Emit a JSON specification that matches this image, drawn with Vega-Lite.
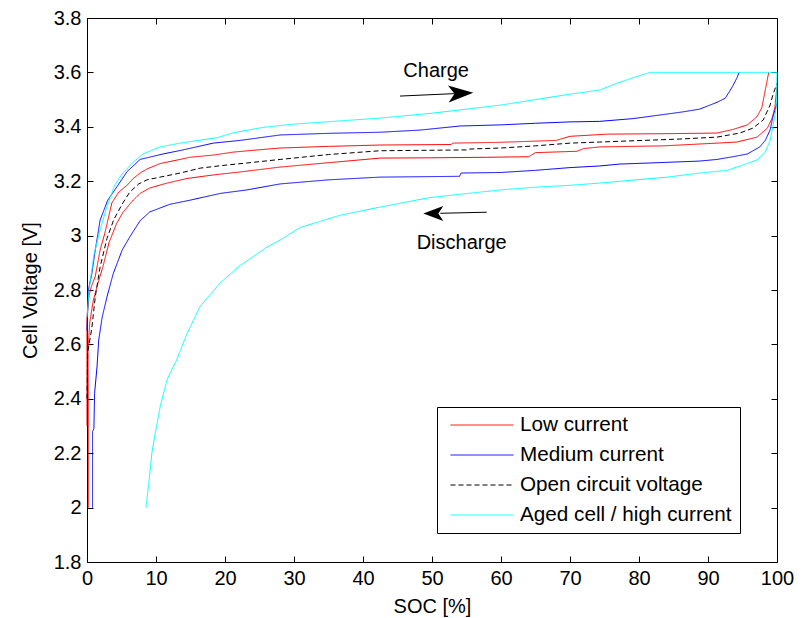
{
  "$schema": "https://vega.github.io/schema/vega-lite/v6.json",
  "width": 690,
  "height": 544,
  "autosize": {"type": "none"},
  "padding": {"left": 87, "top": 18, "right": 25, "bottom": 56},
  "background": "white",
  "config": {
    "view": {"stroke": null},
    "font": "Liberation Sans",
    "axis": {
      "domainColor": "black",
      "domainWidth": 1,
      "tickColor": "black",
      "tickWidth": 1,
      "tickSize": -6,
      "labelColor": "black",
      "labelFont": "Liberation Sans",
      "labelFontSize": 20,
      "labelPadding": 12,
      "labelFlush": false,
      "labelOverlap": false,
      "titleColor": "black",
      "titleFont": "Liberation Sans",
      "titleFontSize": 20,
      "titleFontWeight": "normal",
      "grid": false
    },
    "axisBottom": {"titlePadding": 8},
    "axisLeft": {"titlePadding": 13},
    "legend": {
      "orient": "none",
      "legendX": 350,
      "legendY": 389,
      "title": null,
      "padding": 8,
      "strokeColor": "black",
      "strokeWidth": 1,
      "fillColor": "white",
      "symbolType": "stroke",
      "symbolSize": 3969,
      "symbolStrokeWidth": 1,
      "symbolOffset": 5,
      "labelOffset": 6,
      "labelFont": "Liberation Sans",
      "labelFontSize": 20.7,
      "labelColor": "black",
      "labelLimit": 400,
      "clipHeight": 20,
      "rowPadding": 9
    }
  },
  "datasets": {
    "curves": [
      {"c": "Low current", "s": "low-charge", "i": 1, "soc": 0, "v": 2.3},
      {"c": "Low current", "s": "low-charge", "i": 2, "soc": 0, "v": 2.7},
      {"c": "Low current", "s": "low-charge", "i": 3, "soc": 0.3, "v": 2.78},
      {"c": "Low current", "s": "low-charge", "i": 4, "soc": 0.6, "v": 2.81},
      {"c": "Low current", "s": "low-charge", "i": 5, "soc": 1.2, "v": 2.85},
      {"c": "Low current", "s": "low-charge", "i": 6, "soc": 1.9, "v": 2.947},
      {"c": "Low current", "s": "low-charge", "i": 7, "soc": 2.6, "v": 3.01},
      {"c": "Low current", "s": "low-charge", "i": 8, "soc": 3.6, "v": 3.12},
      {"c": "Low current", "s": "low-charge", "i": 9, "soc": 4.6, "v": 3.16},
      {"c": "Low current", "s": "low-charge", "i": 10, "soc": 5.8, "v": 3.185},
      {"c": "Low current", "s": "low-charge", "i": 11, "soc": 6.7, "v": 3.21},
      {"c": "Low current", "s": "low-charge", "i": 12, "soc": 7.7, "v": 3.23},
      {"c": "Low current", "s": "low-charge", "i": 13, "soc": 8.7, "v": 3.245},
      {"c": "Low current", "s": "low-charge", "i": 14, "soc": 10.6, "v": 3.265},
      {"c": "Low current", "s": "low-charge", "i": 15, "soc": 13.5, "v": 3.28},
      {"c": "Low current", "s": "low-charge", "i": 16, "soc": 14.9, "v": 3.288},
      {"c": "Low current", "s": "low-charge", "i": 17, "soc": 18.3, "v": 3.296},
      {"c": "Low current", "s": "low-charge", "i": 18, "soc": 21.2, "v": 3.307},
      {"c": "Low current", "s": "low-charge", "i": 19, "soc": 26.1, "v": 3.318},
      {"c": "Low current", "s": "low-charge", "i": 20, "soc": 28, "v": 3.322},
      {"c": "Low current", "s": "low-charge", "i": 21, "soc": 35, "v": 3.328},
      {"c": "Low current", "s": "low-charge", "i": 22, "soc": 42.5, "v": 3.333},
      {"c": "Low current", "s": "low-charge", "i": 23, "soc": 52.8, "v": 3.335},
      {"c": "Low current", "s": "low-charge", "i": 24, "soc": 53, "v": 3.34},
      {"c": "Low current", "s": "low-charge", "i": 25, "soc": 60, "v": 3.343},
      {"c": "Low current", "s": "low-charge", "i": 26, "soc": 68, "v": 3.35},
      {"c": "Low current", "s": "low-charge", "i": 27, "soc": 70, "v": 3.365},
      {"c": "Low current", "s": "low-charge", "i": 28, "soc": 75.4, "v": 3.373},
      {"c": "Low current", "s": "low-charge", "i": 29, "soc": 85, "v": 3.375},
      {"c": "Low current", "s": "low-charge", "i": 30, "soc": 91.3, "v": 3.377},
      {"c": "Low current", "s": "low-charge", "i": 31, "soc": 93.6, "v": 3.39},
      {"c": "Low current", "s": "low-charge", "i": 32, "soc": 95.7, "v": 3.407},
      {"c": "Low current", "s": "low-charge", "i": 33, "soc": 97.1, "v": 3.437},
      {"c": "Low current", "s": "low-charge", "i": 34, "soc": 97.8, "v": 3.47},
      {"c": "Low current", "s": "low-charge", "i": 35, "soc": 98.3, "v": 3.535},
      {"c": "Low current", "s": "low-charge", "i": 36, "soc": 98.8, "v": 3.6},

      {"c": "Low current", "s": "low-discharge", "i": 1, "soc": 0.2, "v": 2.0},
      {"c": "Low current", "s": "low-discharge", "i": 2, "soc": 0.2, "v": 2.4},
      {"c": "Low current", "s": "low-discharge", "i": 3, "soc": 0.15, "v": 2.58},
      {"c": "Low current", "s": "low-discharge", "i": 4, "soc": 0.4, "v": 2.68},
      {"c": "Low current", "s": "low-discharge", "i": 5, "soc": 0.9, "v": 2.76},
      {"c": "Low current", "s": "low-discharge", "i": 6, "soc": 1.6, "v": 2.826},
      {"c": "Low current", "s": "low-discharge", "i": 7, "soc": 2.3, "v": 2.885},
      {"c": "Low current", "s": "low-discharge", "i": 8, "soc": 3.2, "v": 2.975},
      {"c": "Low current", "s": "low-discharge", "i": 9, "soc": 4.3, "v": 3.045},
      {"c": "Low current", "s": "low-discharge", "i": 10, "soc": 5.2, "v": 3.085},
      {"c": "Low current", "s": "low-discharge", "i": 11, "soc": 6.5, "v": 3.125},
      {"c": "Low current", "s": "low-discharge", "i": 12, "soc": 7.7, "v": 3.155},
      {"c": "Low current", "s": "low-discharge", "i": 13, "soc": 9.1, "v": 3.175},
      {"c": "Low current", "s": "low-discharge", "i": 14, "soc": 11.6, "v": 3.193},
      {"c": "Low current", "s": "low-discharge", "i": 15, "soc": 14.5, "v": 3.21},
      {"c": "Low current", "s": "low-discharge", "i": 16, "soc": 18.3, "v": 3.223},
      {"c": "Low current", "s": "low-discharge", "i": 17, "soc": 22.2, "v": 3.234},
      {"c": "Low current", "s": "low-discharge", "i": 18, "soc": 28, "v": 3.252},
      {"c": "Low current", "s": "low-discharge", "i": 19, "soc": 35, "v": 3.268},
      {"c": "Low current", "s": "low-discharge", "i": 20, "soc": 42.5, "v": 3.285},
      {"c": "Low current", "s": "low-discharge", "i": 21, "soc": 50, "v": 3.286},
      {"c": "Low current", "s": "low-discharge", "i": 22, "soc": 58, "v": 3.288},
      {"c": "Low current", "s": "low-discharge", "i": 23, "soc": 64, "v": 3.29},
      {"c": "Low current", "s": "low-discharge", "i": 24, "soc": 65, "v": 3.305},
      {"c": "Low current", "s": "low-discharge", "i": 25, "soc": 71, "v": 3.31},
      {"c": "Low current", "s": "low-discharge", "i": 26, "soc": 72, "v": 3.32},
      {"c": "Low current", "s": "low-discharge", "i": 27, "soc": 74.3, "v": 3.326},
      {"c": "Low current", "s": "low-discharge", "i": 28, "soc": 83.6, "v": 3.33},
      {"c": "Low current", "s": "low-discharge", "i": 29, "soc": 91.3, "v": 3.34},
      {"c": "Low current", "s": "low-discharge", "i": 30, "soc": 94.2, "v": 3.344},
      {"c": "Low current", "s": "low-discharge", "i": 31, "soc": 97.1, "v": 3.362},
      {"c": "Low current", "s": "low-discharge", "i": 32, "soc": 98.6, "v": 3.395},
      {"c": "Low current", "s": "low-discharge", "i": 33, "soc": 99.3, "v": 3.432},
      {"c": "Low current", "s": "low-discharge", "i": 34, "soc": 99.7, "v": 3.473},
      {"c": "Low current", "s": "low-discharge", "i": 35, "soc": 100, "v": 3.55},

      {"c": "Open circuit voltage", "s": "ocv", "i": 1, "soc": 0, "v": 2.4},
      {"c": "Open circuit voltage", "s": "ocv", "i": 2, "soc": 0.1, "v": 2.57},
      {"c": "Open circuit voltage", "s": "ocv", "i": 3, "soc": 0.7, "v": 2.66},
      {"c": "Open circuit voltage", "s": "ocv", "i": 4, "soc": 1.2, "v": 2.775},
      {"c": "Open circuit voltage", "s": "ocv", "i": 5, "soc": 1.9, "v": 2.885},
      {"c": "Open circuit voltage", "s": "ocv", "i": 6, "soc": 2.9, "v": 2.99},
      {"c": "Open circuit voltage", "s": "ocv", "i": 7, "soc": 3.9, "v": 3.06},
      {"c": "Open circuit voltage", "s": "ocv", "i": 8, "soc": 5.2, "v": 3.12},
      {"c": "Open circuit voltage", "s": "ocv", "i": 9, "soc": 6.2, "v": 3.16},
      {"c": "Open circuit voltage", "s": "ocv", "i": 10, "soc": 7.5, "v": 3.19},
      {"c": "Open circuit voltage", "s": "ocv", "i": 11, "soc": 8.7, "v": 3.205},
      {"c": "Open circuit voltage", "s": "ocv", "i": 12, "soc": 10.6, "v": 3.215},
      {"c": "Open circuit voltage", "s": "ocv", "i": 13, "soc": 13.5, "v": 3.23},
      {"c": "Open circuit voltage", "s": "ocv", "i": 14, "soc": 16.4, "v": 3.248},
      {"c": "Open circuit voltage", "s": "ocv", "i": 15, "soc": 19.7, "v": 3.258},
      {"c": "Open circuit voltage", "s": "ocv", "i": 16, "soc": 23.2, "v": 3.267},
      {"c": "Open circuit voltage", "s": "ocv", "i": 17, "soc": 28, "v": 3.28},
      {"c": "Open circuit voltage", "s": "ocv", "i": 18, "soc": 35, "v": 3.298},
      {"c": "Open circuit voltage", "s": "ocv", "i": 19, "soc": 42.5, "v": 3.312},
      {"c": "Open circuit voltage", "s": "ocv", "i": 20, "soc": 55, "v": 3.315},
      {"c": "Open circuit voltage", "s": "ocv", "i": 21, "soc": 55.2, "v": 3.318},
      {"c": "Open circuit voltage", "s": "ocv", "i": 22, "soc": 60, "v": 3.322},
      {"c": "Open circuit voltage", "s": "ocv", "i": 23, "soc": 65, "v": 3.33},
      {"c": "Open circuit voltage", "s": "ocv", "i": 24, "soc": 70, "v": 3.34},
      {"c": "Open circuit voltage", "s": "ocv", "i": 25, "soc": 74.3, "v": 3.344},
      {"c": "Open circuit voltage", "s": "ocv", "i": 26, "soc": 85.9, "v": 3.355},
      {"c": "Open circuit voltage", "s": "ocv", "i": 27, "soc": 91.3, "v": 3.362},
      {"c": "Open circuit voltage", "s": "ocv", "i": 28, "soc": 94.6, "v": 3.377},
      {"c": "Open circuit voltage", "s": "ocv", "i": 29, "soc": 96.5, "v": 3.395},
      {"c": "Open circuit voltage", "s": "ocv", "i": 30, "soc": 98, "v": 3.425},
      {"c": "Open circuit voltage", "s": "ocv", "i": 31, "soc": 99, "v": 3.48},
      {"c": "Open circuit voltage", "s": "ocv", "i": 32, "soc": 99.4, "v": 3.517},
      {"c": "Open circuit voltage", "s": "ocv", "i": 33, "soc": 100, "v": 3.56},

      {"c": "Medium current", "s": "medium-charge", "i": 1, "soc": 0, "v": 2.65},
      {"c": "Medium current", "s": "medium-charge", "i": 2, "soc": 0.2, "v": 2.8},
      {"c": "Medium current", "s": "medium-charge", "i": 3, "soc": 0.7, "v": 2.86},
      {"c": "Medium current", "s": "medium-charge", "i": 4, "soc": 1.2, "v": 2.947},
      {"c": "Medium current", "s": "medium-charge", "i": 5, "soc": 1.9, "v": 3.057},
      {"c": "Medium current", "s": "medium-charge", "i": 6, "soc": 3, "v": 3.13},
      {"c": "Medium current", "s": "medium-charge", "i": 7, "soc": 4.35, "v": 3.18},
      {"c": "Medium current", "s": "medium-charge", "i": 8, "soc": 5.8, "v": 3.235},
      {"c": "Medium current", "s": "medium-charge", "i": 9, "soc": 7.7, "v": 3.28},
      {"c": "Medium current", "s": "medium-charge", "i": 10, "soc": 11, "v": 3.3},
      {"c": "Medium current", "s": "medium-charge", "i": 11, "soc": 13.9, "v": 3.315},
      {"c": "Medium current", "s": "medium-charge", "i": 12, "soc": 18.3, "v": 3.34},
      {"c": "Medium current", "s": "medium-charge", "i": 13, "soc": 22.2, "v": 3.35},
      {"c": "Medium current", "s": "medium-charge", "i": 14, "soc": 28, "v": 3.37},
      {"c": "Medium current", "s": "medium-charge", "i": 15, "soc": 35, "v": 3.376},
      {"c": "Medium current", "s": "medium-charge", "i": 16, "soc": 42.5, "v": 3.38},
      {"c": "Medium current", "s": "medium-charge", "i": 17, "soc": 48.3, "v": 3.388},
      {"c": "Medium current", "s": "medium-charge", "i": 18, "soc": 54.1, "v": 3.403},
      {"c": "Medium current", "s": "medium-charge", "i": 19, "soc": 59.9, "v": 3.407},
      {"c": "Medium current", "s": "medium-charge", "i": 20, "soc": 65, "v": 3.413},
      {"c": "Medium current", "s": "medium-charge", "i": 21, "soc": 70, "v": 3.418},
      {"c": "Medium current", "s": "medium-charge", "i": 22, "soc": 74.3, "v": 3.42},
      {"c": "Medium current", "s": "medium-charge", "i": 23, "soc": 79.1, "v": 3.43},
      {"c": "Medium current", "s": "medium-charge", "i": 24, "soc": 84.1, "v": 3.447},
      {"c": "Medium current", "s": "medium-charge", "i": 25, "soc": 86.4, "v": 3.455},
      {"c": "Medium current", "s": "medium-charge", "i": 26, "soc": 88.8, "v": 3.465},
      {"c": "Medium current", "s": "medium-charge", "i": 27, "soc": 91.3, "v": 3.49},
      {"c": "Medium current", "s": "medium-charge", "i": 28, "soc": 92.5, "v": 3.505},
      {"c": "Medium current", "s": "medium-charge", "i": 29, "soc": 93.5, "v": 3.546},
      {"c": "Medium current", "s": "medium-charge", "i": 30, "soc": 94.2, "v": 3.58},
      {"c": "Medium current", "s": "medium-charge", "i": 31, "soc": 94.5, "v": 3.6},

      {"c": "Medium current", "s": "medium-discharge", "i": 1, "soc": 0.8, "v": 2.0},
      {"c": "Medium current", "s": "medium-discharge", "i": 2, "soc": 0.8, "v": 2.28},
      {"c": "Medium current", "s": "medium-discharge", "i": 3, "soc": 1.0, "v": 2.29},
      {"c": "Medium current", "s": "medium-discharge", "i": 4, "soc": 1.1, "v": 2.42},
      {"c": "Medium current", "s": "medium-discharge", "i": 5, "soc": 1.45, "v": 2.517},
      {"c": "Medium current", "s": "medium-discharge", "i": 6, "soc": 1.7, "v": 2.616},
      {"c": "Medium current", "s": "medium-discharge", "i": 7, "soc": 2.2, "v": 2.7},
      {"c": "Medium current", "s": "medium-discharge", "i": 8, "soc": 2.9, "v": 2.775},
      {"c": "Medium current", "s": "medium-discharge", "i": 9, "soc": 3.8, "v": 2.86},
      {"c": "Medium current", "s": "medium-discharge", "i": 10, "soc": 5.1, "v": 2.947},
      {"c": "Medium current", "s": "medium-discharge", "i": 11, "soc": 6.2, "v": 2.995},
      {"c": "Medium current", "s": "medium-discharge", "i": 12, "soc": 7.7, "v": 3.055},
      {"c": "Medium current", "s": "medium-discharge", "i": 13, "soc": 9.1, "v": 3.087},
      {"c": "Medium current", "s": "medium-discharge", "i": 14, "soc": 12, "v": 3.115},
      {"c": "Medium current", "s": "medium-discharge", "i": 15, "soc": 14.9, "v": 3.13},
      {"c": "Medium current", "s": "medium-discharge", "i": 16, "soc": 19.3, "v": 3.155},
      {"c": "Medium current", "s": "medium-discharge", "i": 17, "soc": 23.2, "v": 3.168},
      {"c": "Medium current", "s": "medium-discharge", "i": 18, "soc": 28, "v": 3.19},
      {"c": "Medium current", "s": "medium-discharge", "i": 19, "soc": 35, "v": 3.205},
      {"c": "Medium current", "s": "medium-discharge", "i": 20, "soc": 42.5, "v": 3.215},
      {"c": "Medium current", "s": "medium-discharge", "i": 21, "soc": 54, "v": 3.218},
      {"c": "Medium current", "s": "medium-discharge", "i": 22, "soc": 54.2, "v": 3.23},
      {"c": "Medium current", "s": "medium-discharge", "i": 23, "soc": 60, "v": 3.232},
      {"c": "Medium current", "s": "medium-discharge", "i": 24, "soc": 65, "v": 3.24},
      {"c": "Medium current", "s": "medium-discharge", "i": 25, "soc": 70, "v": 3.25},
      {"c": "Medium current", "s": "medium-discharge", "i": 26, "soc": 74.3, "v": 3.256},
      {"c": "Medium current", "s": "medium-discharge", "i": 27, "soc": 77.2, "v": 3.263},
      {"c": "Medium current", "s": "medium-discharge", "i": 28, "soc": 81.6, "v": 3.267},
      {"c": "Medium current", "s": "medium-discharge", "i": 29, "soc": 88.8, "v": 3.274},
      {"c": "Medium current", "s": "medium-discharge", "i": 30, "soc": 91.3, "v": 3.28},
      {"c": "Medium current", "s": "medium-discharge", "i": 31, "soc": 93.6, "v": 3.29},
      {"c": "Medium current", "s": "medium-discharge", "i": 32, "soc": 95.7, "v": 3.3},
      {"c": "Medium current", "s": "medium-discharge", "i": 33, "soc": 97.5, "v": 3.326},
      {"c": "Medium current", "s": "medium-discharge", "i": 34, "soc": 98.3, "v": 3.35},
      {"c": "Medium current", "s": "medium-discharge", "i": 35, "soc": 99, "v": 3.388},
      {"c": "Medium current", "s": "medium-discharge", "i": 36, "soc": 99.4, "v": 3.436},
      {"c": "Medium current", "s": "medium-discharge", "i": 37, "soc": 100, "v": 3.487},

      {"c": "Aged cell / high current", "s": "aged-charge", "i": 1, "soc": 0, "v": 2.7},
      {"c": "Aged cell / high current", "s": "aged-charge", "i": 2, "soc": 0.3, "v": 2.8},
      {"c": "Aged cell / high current", "s": "aged-charge", "i": 3, "soc": 1.0, "v": 2.93},
      {"c": "Aged cell / high current", "s": "aged-charge", "i": 4, "soc": 1.9, "v": 3.02},
      {"c": "Aged cell / high current", "s": "aged-charge", "i": 5, "soc": 2.8, "v": 3.1},
      {"c": "Aged cell / high current", "s": "aged-charge", "i": 6, "soc": 4.0, "v": 3.185},
      {"c": "Aged cell / high current", "s": "aged-charge", "i": 7, "soc": 5.2, "v": 3.23},
      {"c": "Aged cell / high current", "s": "aged-charge", "i": 8, "soc": 6.7, "v": 3.27},
      {"c": "Aged cell / high current", "s": "aged-charge", "i": 9, "soc": 8.1, "v": 3.3},
      {"c": "Aged cell / high current", "s": "aged-charge", "i": 10, "soc": 10.6, "v": 3.326},
      {"c": "Aged cell / high current", "s": "aged-charge", "i": 11, "soc": 13.5, "v": 3.34},
      {"c": "Aged cell / high current", "s": "aged-charge", "i": 12, "soc": 18.8, "v": 3.36},
      {"c": "Aged cell / high current", "s": "aged-charge", "i": 13, "soc": 21.2, "v": 3.378},
      {"c": "Aged cell / high current", "s": "aged-charge", "i": 14, "soc": 25.5, "v": 3.398},
      {"c": "Aged cell / high current", "s": "aged-charge", "i": 15, "soc": 30, "v": 3.41},
      {"c": "Aged cell / high current", "s": "aged-charge", "i": 16, "soc": 42.5, "v": 3.432},
      {"c": "Aged cell / high current", "s": "aged-charge", "i": 17, "soc": 50, "v": 3.45},
      {"c": "Aged cell / high current", "s": "aged-charge", "i": 18, "soc": 60, "v": 3.48},
      {"c": "Aged cell / high current", "s": "aged-charge", "i": 19, "soc": 65, "v": 3.5},
      {"c": "Aged cell / high current", "s": "aged-charge", "i": 20, "soc": 70, "v": 3.52},
      {"c": "Aged cell / high current", "s": "aged-charge", "i": 21, "soc": 74.3, "v": 3.535},
      {"c": "Aged cell / high current", "s": "aged-charge", "i": 22, "soc": 76.8, "v": 3.56},
      {"c": "Aged cell / high current", "s": "aged-charge", "i": 23, "soc": 79.1, "v": 3.58},
      {"c": "Aged cell / high current", "s": "aged-charge", "i": 24, "soc": 81.6, "v": 3.6},
      {"c": "Aged cell / high current", "s": "aged-charge", "i": 25, "soc": 100, "v": 3.6},

      {"c": "Aged cell / high current", "s": "aged-discharge", "i": 1, "soc": 8.55, "v": 2.0},
      {"c": "Aged cell / high current", "s": "aged-discharge", "i": 2, "soc": 9.0, "v": 2.1},
      {"c": "Aged cell / high current", "s": "aged-discharge", "i": 3, "soc": 9.4, "v": 2.2},
      {"c": "Aged cell / high current", "s": "aged-discharge", "i": 4, "soc": 9.9, "v": 2.275},
      {"c": "Aged cell / high current", "s": "aged-discharge", "i": 5, "soc": 10.6, "v": 2.37},
      {"c": "Aged cell / high current", "s": "aged-discharge", "i": 6, "soc": 11.6, "v": 2.47},
      {"c": "Aged cell / high current", "s": "aged-discharge", "i": 7, "soc": 13, "v": 2.543},
      {"c": "Aged cell / high current", "s": "aged-discharge", "i": 8, "soc": 14.5, "v": 2.64},
      {"c": "Aged cell / high current", "s": "aged-discharge", "i": 9, "soc": 16.4, "v": 2.74},
      {"c": "Aged cell / high current", "s": "aged-discharge", "i": 10, "soc": 19.3, "v": 2.826},
      {"c": "Aged cell / high current", "s": "aged-discharge", "i": 11, "soc": 22.2, "v": 2.89},
      {"c": "Aged cell / high current", "s": "aged-discharge", "i": 12, "soc": 26.1, "v": 2.958},
      {"c": "Aged cell / high current", "s": "aged-discharge", "i": 13, "soc": 28, "v": 2.984},
      {"c": "Aged cell / high current", "s": "aged-discharge", "i": 14, "soc": 30.9, "v": 3.03},
      {"c": "Aged cell / high current", "s": "aged-discharge", "i": 15, "soc": 36.7, "v": 3.075},
      {"c": "Aged cell / high current", "s": "aged-discharge", "i": 16, "soc": 42.5, "v": 3.105},
      {"c": "Aged cell / high current", "s": "aged-discharge", "i": 17, "soc": 49.7, "v": 3.14},
      {"c": "Aged cell / high current", "s": "aged-discharge", "i": 18, "soc": 57, "v": 3.16},
      {"c": "Aged cell / high current", "s": "aged-discharge", "i": 19, "soc": 59.9, "v": 3.168},
      {"c": "Aged cell / high current", "s": "aged-discharge", "i": 20, "soc": 65, "v": 3.178},
      {"c": "Aged cell / high current", "s": "aged-discharge", "i": 21, "soc": 70, "v": 3.185},
      {"c": "Aged cell / high current", "s": "aged-discharge", "i": 22, "soc": 74.3, "v": 3.193},
      {"c": "Aged cell / high current", "s": "aged-discharge", "i": 23, "soc": 79.1, "v": 3.204},
      {"c": "Aged cell / high current", "s": "aged-discharge", "i": 24, "soc": 84.1, "v": 3.215},
      {"c": "Aged cell / high current", "s": "aged-discharge", "i": 25, "soc": 88.8, "v": 3.23},
      {"c": "Aged cell / high current", "s": "aged-discharge", "i": 26, "soc": 92.8, "v": 3.24},
      {"c": "Aged cell / high current", "s": "aged-discharge", "i": 27, "soc": 95.1, "v": 3.26},
      {"c": "Aged cell / high current", "s": "aged-discharge", "i": 28, "soc": 97.1, "v": 3.278},
      {"c": "Aged cell / high current", "s": "aged-discharge", "i": 29, "soc": 98.3, "v": 3.307},
      {"c": "Aged cell / high current", "s": "aged-discharge", "i": 30, "soc": 99, "v": 3.35},
      {"c": "Aged cell / high current", "s": "aged-discharge", "i": 31, "soc": 99.4, "v": 3.4},
      {"c": "Aged cell / high current", "s": "aged-discharge", "i": 32, "soc": 99.9, "v": 3.473},
      {"c": "Aged cell / high current", "s": "aged-discharge", "i": 33, "soc": 100, "v": 3.6}
    ],
    "notes": [
      {"k": "shaft", "x0": 45.36, "y0": 3.513, "x1": 53.3, "y1": 3.522},
      {"k": "shaft", "x0": 57.93, "y0": 3.086, "x1": 51.2, "y1": 3.082},
      {"k": "head-charge", "x0": 54.17, "y0": 3.523},
      {"k": "head-discharge", "x0": 50.19, "y0": 3.081},
      {"k": "label", "x0": 50.6, "y0": 3.583, "label": "Charge"},
      {"k": "label", "x0": 54.3, "y0": 2.949, "label": "Discharge"}
    ]
  },
  "layer": [
    {
      "data": {"name": "curves"},
      "mark": {"type": "line", "strokeWidth": 1},
      "encoding": {
        "x": {
          "field": "soc", "type": "quantitative",
          "scale": {"domain": [0, 100], "nice": false, "zero": false},
          "axis": {"orient": "bottom", "title": "SOC [%]", "values": [0, 10, 20, 30, 40, 50, 60, 70, 80, 90, 100]}
        },
        "y": {
          "field": "v", "type": "quantitative",
          "scale": {"domain": [1.8, 3.8], "nice": false, "zero": false},
          "axis": {"orient": "left", "title": "Cell Voltage [V]", "format": "~g", "values": [1.8, 2, 2.2, 2.4, 2.6, 2.8, 3, 3.2, 3.4, 3.6, 3.8]}
        },
        "color": {
          "field": "c", "type": "nominal",
          "scale": {
            "domain": ["Low current", "Medium current", "Open circuit voltage", "Aged cell / high current"],
            "range": ["#ff0000", "#0000ff", "#000000", "#00ffff"]
          },
          "legend": {"title": null}
        },
        "strokeDash": {
          "field": "c", "type": "nominal",
          "scale": {
            "domain": ["Low current", "Medium current", "Open circuit voltage", "Aged cell / high current"],
            "range": [[1, 0], [1, 0], [5, 3], [1, 0]]
          },
          "legend": {"title": null}
        },
        "detail": {"field": "s", "type": "nominal"},
        "order": {"field": "i", "type": "quantitative"}
      }
    },
    {
      "data": {"name": "notes"},
      "transform": [{"filter": "datum.k === 'shaft'"}],
      "mark": {"type": "rule", "color": "black", "strokeWidth": 1},
      "encoding": {
        "x": {
          "field": "x0", "type": "quantitative",
          "scale": {"domain": [0, 100], "nice": false, "zero": false},
          "axis": {"orient": "top", "title": null, "labels": false, "values": [0, 10, 20, 30, 40, 50, 60, 70, 80, 90, 100]}
        },
        "x2": {"field": "x1"},
        "y": {
          "field": "y0", "type": "quantitative",
          "scale": {"domain": [1.8, 3.8], "nice": false, "zero": false},
          "axis": {"orient": "right", "title": null, "labels": false, "values": [1.8, 2, 2.2, 2.4, 2.6, 2.8, 3, 3.2, 3.4, 3.6, 3.8]}
        },
        "y2": {"field": "y1"}
      }
    },
    {
      "data": {"name": "notes"},
      "transform": [{"filter": "datum.k === 'head-charge'"}],
      "mark": {"type": "point", "shape": "M1,0L-1,-0.68L-0.5,0L-1,0.68Z", "size": 625, "angle": -2.6, "filled": true, "color": "black", "opacity": 1},
      "encoding": {
        "x": {"field": "x0", "type": "quantitative", "scale": {"domain": [0, 100], "nice": false, "zero": false}, "axis": null},
        "y": {"field": "y0", "type": "quantitative", "scale": {"domain": [1.8, 3.8], "nice": false, "zero": false}, "axis": null}
      }
    },
    {
      "data": {"name": "notes"},
      "transform": [{"filter": "datum.k === 'head-discharge'"}],
      "mark": {"type": "point", "shape": "M1,0L-1,-0.75L-0.5,0L-1,0.75Z", "size": 400, "angle": 180, "filled": true, "color": "black", "opacity": 1},
      "encoding": {
        "x": {"field": "x0", "type": "quantitative", "scale": {"domain": [0, 100], "nice": false, "zero": false}, "axis": null},
        "y": {"field": "y0", "type": "quantitative", "scale": {"domain": [1.8, 3.8], "nice": false, "zero": false}, "axis": null}
      }
    },
    {
      "data": {"name": "notes"},
      "transform": [{"filter": "datum.k === 'label'"}],
      "mark": {"type": "text", "font": "Liberation Sans", "fontSize": 20, "align": "center", "baseline": "alphabetic", "color": "black"},
      "encoding": {
        "x": {"field": "x0", "type": "quantitative", "scale": {"domain": [0, 100], "nice": false, "zero": false}, "axis": null},
        "y": {"field": "y0", "type": "quantitative", "scale": {"domain": [1.8, 3.8], "nice": false, "zero": false}, "axis": null},
        "text": {"field": "label", "type": "nominal"}
      }
    }
  ],
  "resolve": {"axis": {"x": "independent", "y": "independent"}}
}
